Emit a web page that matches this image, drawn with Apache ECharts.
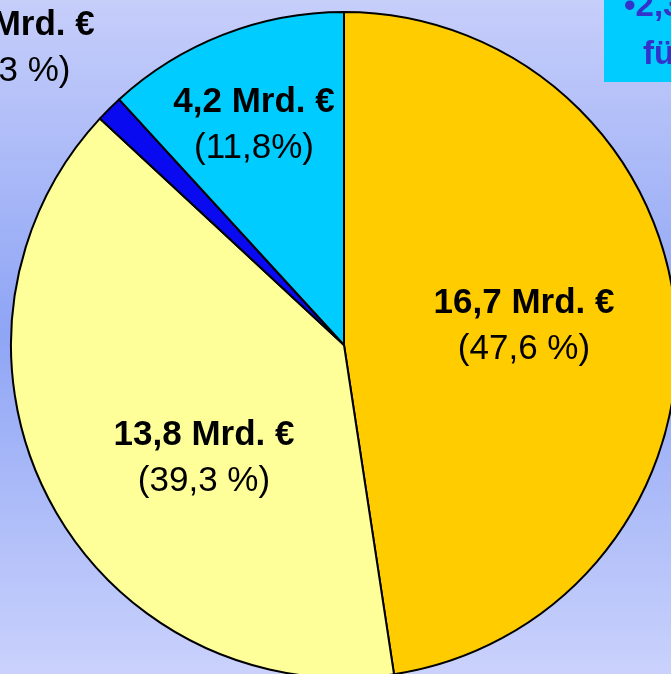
<!DOCTYPE html>
<html>
<head>
<meta charset="utf-8">
<script src="https://cdn.jsdelivr.net/npm/echarts@6/dist/echarts.min.js"></script>
<style>
  html, body { margin: 0; padding: 0; }
  #chart { width: 671px; height: 674px; }
</style>
</head>
<body>
<div id="chart"></div>
<script>
// Anteile in Prozent (Reihenfolge im Uhrzeigersinn ab 12 Uhr)
var shares = [47.6, 39.3, 1.3, 11.8];
var amounts = ['16,7', '13,8', '0,5', '4,2'];
var pctLabels = ['47,6 %', '39,3 %', '1,3 %', '11,8%'];
var sliceColors = ['#ffcc00', '#ffff99', '#0a0af0', '#00ccff'];
// Mittelpunkte der Beschriftungen
var labelPos = [[524, 326], [204, 458], [14, 48], [254, 125]];

var myChart = echarts.init(document.getElementById('chart'));

var data = [];
for (var i = 0; i < shares.length; i++) {
    data.push({
        value: shares[i],
        name: amounts[i],
        itemStyle: { color: sliceColors[i] }
    });
}

myChart.setOption({
    backgroundColor: new echarts.graphic.LinearGradient(0, 0, 0, 1, [
        { offset: 0, color: '#c6cefa' },
        { offset: 0.49, color: '#8fa5f5' },
        { offset: 1, color: '#cad2fc' }
    ]),
    animation: false,
    graphic: [
        {
            type: 'rect',
            shape: { x: 604, y: -2, width: 80, height: 84 },
            style: { fill: '#00ccff' }
        },
        {
            type: 'text',
            x: 624, y: 23,
            style: {
                text: '•2,3 Mrd. €',
                fill: '#3333cc',
                font: 'bold 33px "Liberation Sans", Arial, sans-serif',
                verticalAlign: 'bottom'
            }
        },
        {
            type: 'text',
            x: 643, y: 71,
            style: {
                text: 'für',
                fill: '#3333cc',
                font: 'bold 33px "Liberation Sans", Arial, sans-serif',
                verticalAlign: 'bottom'
            }
        }
    ],
    series: [
        {
            type: 'pie',
            center: [344, 345],
            radius: 333,
            startAngle: 90,
            clockwise: true,
            data: data,
            itemStyle: { borderColor: '#000', borderWidth: 2 },
            emphasis: { disabled: true },
            label: {
                show: true,
                position: 'inside',
                formatter: function (p) {
                    return '{b|' + amounts[p.dataIndex] + ' Mrd. €}\n{p|(' + pctLabels[p.dataIndex] + ')}';
                },
                rich: {
                    b: {
                        fontFamily: '"Liberation Sans", Arial, sans-serif',
                        fontSize: 35, fontWeight: 'bold', color: '#000',
                        lineHeight: 46, align: 'center'
                    },
                    p: {
                        fontFamily: '"Liberation Sans", Arial, sans-serif',
                        fontSize: 35, color: '#000',
                        lineHeight: 46, align: 'center'
                    }
                }
            },
            labelLine: { show: false },
            labelLayout: function (p) {
                return {
                    x: labelPos[p.dataIndex][0],
                    y: labelPos[p.dataIndex][1],
                    align: 'center',
                    verticalAlign: 'middle'
                };
            }
        }
    ]
});
</script>
</body>
</html>
